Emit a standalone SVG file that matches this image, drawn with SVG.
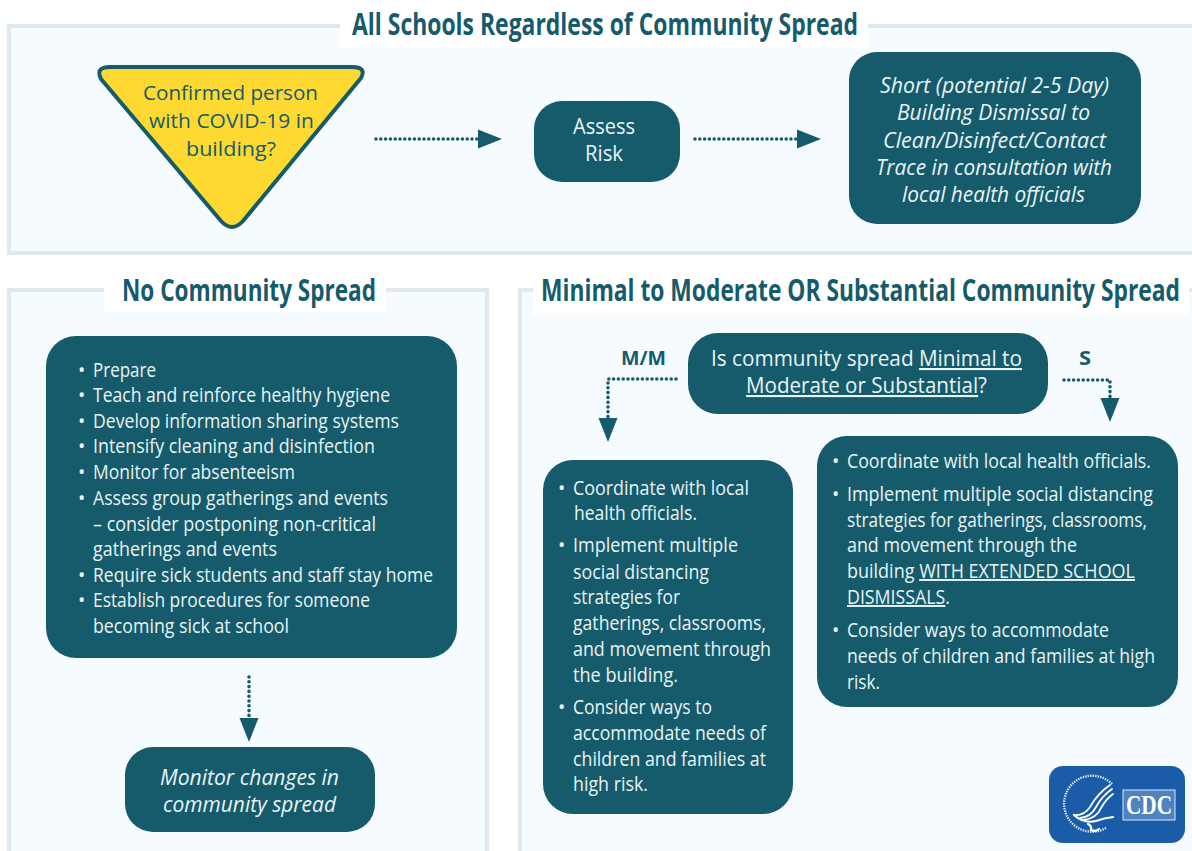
<svg xmlns="http://www.w3.org/2000/svg" width="1192" height="851" viewBox="0 0 1192 851">
<style>
text{font-family:"Open Sans","Noto Sans","Liberation Sans",sans-serif}
.panel{fill:#f5fbfe;stroke:#dfeaec;stroke-width:4}
.gap{fill:#fff}
.box{fill:#165b6b}
.title{font-weight:700;font-size:24px;fill:#165b6b}
.lab{font-weight:700;font-size:20px;fill:#165b6b}
.t{font-size:21px;fill:#e9f4f6}
.l{font-size:19.5px;fill:#e9f4f6}
.i{font-size:21px;font-style:italic;fill:#e9f4f6}
.u{text-decoration:underline}
.d{font-size:20.5px;fill:#165b6b}
.con{fill:none;stroke:#165b6b;stroke-width:3.6;stroke-linecap:round;stroke-dasharray:0 4.8;marker-end:url(#ah)}
</style>
<defs>
<marker id="ah" markerUnits="userSpaceOnUse" markerWidth="24" markerHeight="20" refX="0" refY="10" orient="auto"><path d="M0 0.5L24 10L0 19.5Z" fill="#165b6b"/></marker>
</defs>
<rect width="1192" height="851" fill="#fff"/>
<g id="panels">
<rect class="panel" x="9" y="26" width="1200" height="227"/>
<rect class="gap" x="340" y="10" width="528" height="38"/>
<text class="title" transform="translate(352 35) scale(1 1.25)" textLength="506" lengthAdjust="spacingAndGlyphs">All Schools Regardless of Community Spread</text>
<rect class="panel" x="9" y="290" width="478" height="580"/>
<rect class="gap" x="104" y="275" width="282" height="37"/>
<text class="title" transform="translate(122 301) scale(1 1.25)" textLength="254" lengthAdjust="spacingAndGlyphs">No Community Spread</text>
<rect class="panel" x="520" y="290" width="690" height="580"/>
<rect class="gap" x="533" y="275" width="656" height="40"/>
<text class="title" transform="translate(541 301) scale(1 1.25)" textLength="639" lengthAdjust="spacingAndGlyphs">Minimal to Moderate OR Substantial Community Spread</text>
</g>
<g id="connectors">
<path class="con" d="M376 139H478"/>
<path class="con" d="M695 139H797"/>
<path class="con" d="M249 677V718"/>
<path class="con" d="M676 379H608V418"/>
<path class="con" d="M1064 380H1110V398"/>
</g>
<g id="decision">
<path d="M110 67H352Q367 67 361 78L243 221Q232 233 221 221L101 79Q95 67 110 67Z" fill="#fdd931" stroke="#165b6b" stroke-width="4" stroke-linejoin="round"/>
<text class="d" x="143" y="100" textLength="175" lengthAdjust="spacingAndGlyphs">Confirmed person</text>
<text class="d" x="149" y="128" textLength="165" lengthAdjust="spacingAndGlyphs">with COVID-19 in</text>
<text class="d" x="186" y="156" textLength="90" lengthAdjust="spacingAndGlyphs">building?</text>
</g>
<g id="assess">
<rect class="box" x="534" y="101" width="146" height="81" rx="28"/>
<text class="t" x="573" y="134" textLength="62" lengthAdjust="spacingAndGlyphs">Assess</text>
<text class="t" x="585" y="161" textLength="38" lengthAdjust="spacingAndGlyphs">Risk</text>
</g>
<g id="dismissal">
<rect class="box" x="849" y="52" width="292" height="172" rx="28"/>
<text class="i" x="880" y="93" textLength="229" lengthAdjust="spacingAndGlyphs">Short (potential 2-5 Day)</text>
<text class="i" x="897" y="120" textLength="193" lengthAdjust="spacingAndGlyphs">Building Dismissal to</text>
<text class="i" x="883" y="148" textLength="223" lengthAdjust="spacingAndGlyphs">Clean/Disinfect/Contact</text>
<text class="i" x="876" y="175" textLength="236" lengthAdjust="spacingAndGlyphs">Trace in consultation with</text>
<text class="i" x="902" y="202" textLength="183" lengthAdjust="spacingAndGlyphs">local health officials</text>
</g>
<g id="no-spread-actions">
<rect class="box" x="46" y="336" width="411" height="322" rx="30"/>
<text class="l" x="78" y="377">•</text><text class="l" x="93" y="377" textLength="63" lengthAdjust="spacingAndGlyphs">Prepare</text>
<text class="l" x="78" y="402">•</text><text class="l" x="93" y="402" textLength="297" lengthAdjust="spacingAndGlyphs">Teach and reinforce healthy hygiene</text>
<text class="l" x="78" y="428">•</text><text class="l" x="93" y="428" textLength="306" lengthAdjust="spacingAndGlyphs">Develop information sharing systems</text>
<text class="l" x="78" y="453">•</text><text class="l" x="93" y="453" textLength="282" lengthAdjust="spacingAndGlyphs">Intensify cleaning and disinfection</text>
<text class="l" x="78" y="479">•</text><text class="l" x="93" y="479" textLength="202" lengthAdjust="spacingAndGlyphs">Monitor for absenteeism</text>
<text class="l" x="78" y="505">•</text><text class="l" x="93" y="505" textLength="295" lengthAdjust="spacingAndGlyphs">Assess group gatherings and events</text>
<text class="l" x="93" y="531" textLength="283" lengthAdjust="spacingAndGlyphs">– consider postponing non-critical</text>
<text class="l" x="93" y="556" textLength="184" lengthAdjust="spacingAndGlyphs">gatherings and events</text>
<text class="l" x="78" y="582">•</text><text class="l" x="93" y="582" textLength="340" lengthAdjust="spacingAndGlyphs">Require sick students and staff stay home</text>
<text class="l" x="78" y="607">•</text><text class="l" x="93" y="607" textLength="277" lengthAdjust="spacingAndGlyphs">Establish procedures for someone</text>
<text class="l" x="93" y="633" textLength="196" lengthAdjust="spacingAndGlyphs">becoming sick at school</text>
</g>
<g id="monitor">
<rect class="box" x="125" y="747" width="250" height="85" rx="28"/>
<text class="i" x="160" y="785" textLength="179" lengthAdjust="spacingAndGlyphs">Monitor changes in</text>
<text class="i" x="163" y="812" textLength="173" lengthAdjust="spacingAndGlyphs">community spread</text>
</g>
<g id="question">
<rect class="box" x="688" y="333" width="360" height="81" rx="30"/>
<text class="t" x="711" y="366" textLength="311" lengthAdjust="spacingAndGlyphs">Is community spread <tspan class="u">Minimal to</tspan></text>
<text class="t" x="746" y="393" textLength="241" lengthAdjust="spacingAndGlyphs"><tspan class="u">Moderate or Substantial</tspan>?</text>
</g>
<g id="labels">
<text class="lab" x="621" y="365" textLength="45" lengthAdjust="spacingAndGlyphs">M/M</text>
<text class="lab" x="1079" y="365" textLength="12" lengthAdjust="spacingAndGlyphs">S</text>
</g>
<g id="mm-actions">
<rect class="box" x="543" y="460" width="250" height="354" rx="30"/>
<text class="l" x="558" y="495">•</text><text class="l" x="573" y="495" textLength="176" lengthAdjust="spacingAndGlyphs">Coordinate with local</text>
<text class="l" x="574" y="520" textLength="123" lengthAdjust="spacingAndGlyphs">health officials.</text>
<text class="l" x="558" y="552">•</text><text class="l" x="573" y="552" textLength="165" lengthAdjust="spacingAndGlyphs">Implement multiple</text>
<text class="l" x="573" y="579" textLength="136" lengthAdjust="spacingAndGlyphs">social distancing</text>
<text class="l" x="573" y="604" textLength="107" lengthAdjust="spacingAndGlyphs">strategies for</text>
<text class="l" x="573" y="630" textLength="193" lengthAdjust="spacingAndGlyphs">gatherings, classrooms,</text>
<text class="l" x="573" y="656" textLength="198" lengthAdjust="spacingAndGlyphs">and movement through</text>
<text class="l" x="573" y="682" textLength="105" lengthAdjust="spacingAndGlyphs">the building.</text>
<text class="l" x="558" y="714">•</text><text class="l" x="573" y="714" textLength="139" lengthAdjust="spacingAndGlyphs">Consider ways to</text>
<text class="l" x="573" y="740" textLength="193" lengthAdjust="spacingAndGlyphs">accommodate needs of</text>
<text class="l" x="573" y="766" textLength="193" lengthAdjust="spacingAndGlyphs">children and families at</text>
<text class="l" x="573" y="791" textLength="75" lengthAdjust="spacingAndGlyphs">high risk.</text>
</g>
<g id="s-actions">
<rect class="box" x="817" y="436" width="361" height="271" rx="30"/>
<text class="l" x="832" y="468">•</text><text class="l" x="847" y="468" textLength="304" lengthAdjust="spacingAndGlyphs">Coordinate with local health officials.</text>
<text class="l" x="832" y="501">•</text><text class="l" x="847" y="501" textLength="306" lengthAdjust="spacingAndGlyphs">Implement multiple social distancing</text>
<text class="l" x="847" y="527" textLength="300" lengthAdjust="spacingAndGlyphs">strategies for gatherings, classrooms,</text>
<text class="l" x="847" y="552" textLength="230" lengthAdjust="spacingAndGlyphs">and movement through the</text>
<text class="l" x="847" y="578" textLength="288" lengthAdjust="spacingAndGlyphs">building <tspan class="u">WITH EXTENDED SCHOOL</tspan></text>
<text class="l" x="847" y="604" textLength="103" lengthAdjust="spacingAndGlyphs"><tspan class="u">DISMISSALS</tspan>.</text>
<text class="l" x="832" y="637">•</text><text class="l" x="847" y="637" textLength="262" lengthAdjust="spacingAndGlyphs">Consider ways to accommodate</text>
<text class="l" x="847" y="663" textLength="308" lengthAdjust="spacingAndGlyphs">needs of children and families at high</text>
<text class="l" x="847" y="689" textLength="33" lengthAdjust="spacingAndGlyphs">risk.</text>
</g>
<g id="cdc-logo">
<rect x="1049" y="766" width="136" height="77" rx="14" fill="#1a5ca8"/>
<path d="M1112 784A28 28 0 1 0 1106 828" fill="none" stroke="#cfe0f2" stroke-width="2.4" stroke-dasharray="1.5 1"/>
<g fill="none" stroke="#fff" stroke-linecap="round">
<path d="M1074 815Q1084 816 1090 807Q1098 793 1110 785" stroke-width="1.8"/>
<path d="M1080 818Q1091 817 1096 807Q1102 796 1112 789" stroke-width="1.8"/>
<path d="M1084 820Q1097 818 1101 808Q1106 799 1113 794" stroke-width="1.8"/>
<path d="M1074 815Q1084 824 1096 821Q1104 818 1113 817" stroke-width="2.2"/>
<path d="M1088 824Q1092 826 1091 830Q1096 832 1099 829" stroke-width="2.2"/>
</g>
<rect x="1123" y="790" width="52" height="30" fill="#4f83c0" stroke="#dce8f5" stroke-width="1"/>
<text x="1126" y="814" font-size="27" font-weight="700" fill="#fff" style="font-family:'Liberation Serif',serif" textLength="46" lengthAdjust="spacingAndGlyphs">CDC</text>
</g>
</svg>
